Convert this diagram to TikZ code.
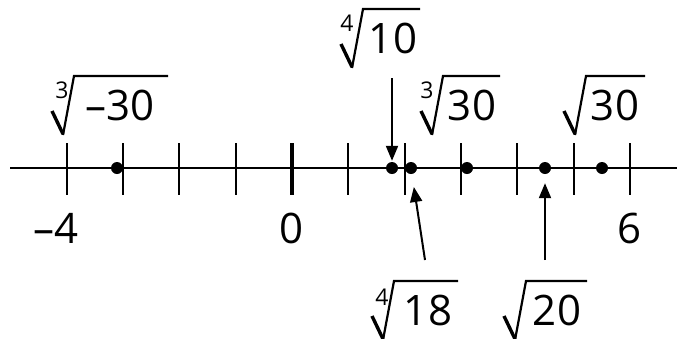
\documentclass[tikz,border=0pt]{standalone}
\usepackage{fontspec}
\setmainfont{Open Sans}
\usetikzlibrary{arrows.meta}
\begin{document}
\begin{tikzpicture}[x=1pt,y=-1pt,
  lbl/.style={inner sep=0pt,anchor=base,font=\fontsize{42}{50}\selectfont},
  idx/.style={inner sep=0pt,anchor=center,font=\fontsize{23}{26}\selectfont},
  surd/.style={line width=2.2pt,line join=miter},
  surdarm/.style={line width=3.4pt},
  dot/.style={circle,fill=black,inner sep=0pt,minimum size=12pt},
  tick/.style={line width=2pt},
  arr/.style={line width=2pt,-{Triangle[length=15pt,width=12pt]}}]
\useasboundingbox (0,0) rectangle (677,338);
% axis
\coordinate (L) at (10,168);
\coordinate (R) at (677,168);
\draw[line width=2.5pt] (L) -- (R);
% ticks
\foreach \i in {-4,-3,-2,-1,1,2,3,4,5,6}
  \draw[tick] ({292+56.3*\i},143) -- ({292+56.3*\i},195);
\draw[line width=3.5pt] (292,143) -- (292,195);
% dots
\node[dot] (d1) at (117,168) {};
\node[dot] (d2) at (392,168) {};
\node[dot] (d3) at (411,168) {};
\node[dot] (d4) at (467,168) {};
\node[dot] (d5) at (545,168) {};
\node[dot] (d6) at (602,168) {};
% radicands and indices
\node[lbl] (l1) at (120,120) {–30};
\node[idx] (i1) at (62,90) {3};
\node[lbl] (l2) at (393,53) {10};
\node[idx] (i2) at (347,23) {4};
\node[lbl] (l3) at (472,120) {30};
\node[idx] (i3) at (427,90) {3};
\node[lbl] (l4) at (615,120) {30};
\node[lbl] (l5) at (428,325) {18};
\node[idx] (i5) at (382,297) {4};
\node[lbl] (l6) at (557,325) {20};
% radical signs
\foreach \vx/\b/\e in {63/120/168, 352/53/420, 432/120/500, 575/120/645, 383/325/458, 515/325/587}{
  \draw[surdarm] ({\vx-11},{\b-9}) -- (\vx,{\b+14});
  \draw[surd] (\vx,{\b+15}) -- ({\vx+11},{\b-44}) -- (\e,{\b-44});
}
% numbers
\node[lbl] (n1) at (56,243) {–4};
\node[lbl] (n2) at (292,243) {0};
\node[lbl] (n3) at (629,243) {6};
% arrows
\coordinate (a2) at (392,78);
\coordinate (a5) at (425,260);
\coordinate (a6) at (545,260);
\draw[arr,shorten >=1pt] (a2) -- (d2);
\draw[arr,shorten >=13pt] (a5) -- (d3);
\draw[arr,shorten >=9pt] (a6) -- (d5);
\end{tikzpicture}
\end{document}
